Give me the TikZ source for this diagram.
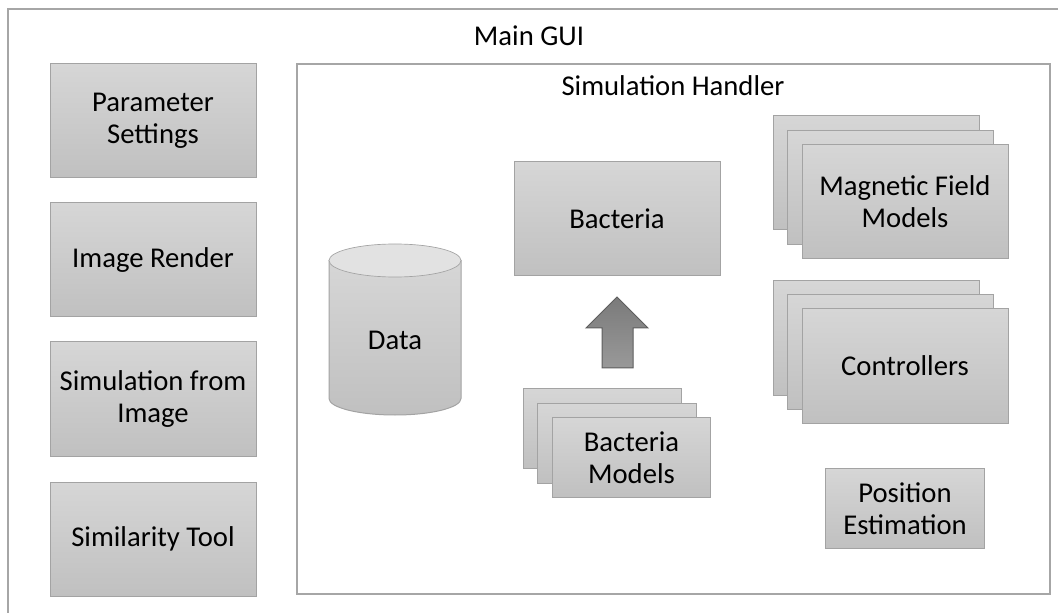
\documentclass[tikz,border=0pt]{standalone}
\usepackage{fontspec}
\setmainfont{Carlito}

\definecolor{frameline}{HTML}{A6A6A6}
\definecolor{boxline}{HTML}{A3A3A3}
\definecolor{boxtop}{HTML}{D6D6D6}
\definecolor{boxbot}{HTML}{C0C0C0}
\definecolor{captop}{HTML}{E2E2E2}
\definecolor{arrowline}{HTML}{5E5E5E}

\begin{document}
\begin{tikzpicture}[x=0.75pt,y=-0.75pt,
  every node/.style={font=\fontsize{21.5}{24}\selectfont, align=center},
  box/.style={draw=boxline, line width=0.75pt, top color=boxtop, bottom color=boxbot,
    minimum width=154.5pt, minimum height=85.5pt, inner sep=0pt},
  smallbox/.style={box, minimum width=119pt, minimum height=60pt},
  frame/.style={draw=frameline, line width=0.9pt}]
\useasboundingbox (0,0) rectangle (1058,613);
\clip (0,0) rectangle (1058,613);

% Main GUI frame
\draw[frame] (8,9) rectangle (1080,640);
\node (gui) at (529,36) {Main GUI};

\node[box] (param) at (153,120.5) {Parameter\\Settings};
\node[box] (render) at (153,260) {Image Render};
\node[box] (simimg) at (153,399) {Simulation from\\Image};
\node[box] (simtool) at (153,539) {Similarity Tool};

% Simulation handler
\draw[frame, fill=white] (297,64) rectangle (1050,594);
\node (handler) at (673,86) {Simulation Handler};

% data store
\draw[draw=boxline, line width=0.75pt, top color=boxtop, bottom color=boxbot]
  (329,260.5) -- (329,398.5) arc(180:0:66 and 16.5) -- (461,260.5) -- cycle;
\draw[draw=boxline, line width=0.5pt, fill=captop] (395,260.5) ellipse (66 and 16.5);
\node (data) at (395,340) {Data};

\node[box] (bact) at (617,219) {Bacteria};

% block arrow
\draw[draw=arrowline, line width=0.75pt, top color=black!52, bottom color=black!40]
  (617,297) -- (648,328) -- (633,328) -- (633,368) -- (602,368) -- (602,328)
  -- (586,328) -- cycle;

\node[smallbox] (bm3) at (602.5,428) {};
\node[smallbox] (bm2) at (617,443) {};
\node[smallbox] (bm1) at (631.5,457.5) {Bacteria\\Models};

\node[box] (mfm3) at (876,173) {};
\node[box] (mfm2) at (890.5,187.5) {};
\node[box] (mfm1) at (905,202) {Magnetic Field\\Models};

\node[box] (ctrl3) at (876,338) {};
\node[box] (ctrl2) at (890.5,352) {};
\node[box] (ctrl1) at (905,366) {Controllers};

\node[smallbox] (pos) at (905,508.5) {Position\\Estimation};
\end{tikzpicture}
\end{document}
